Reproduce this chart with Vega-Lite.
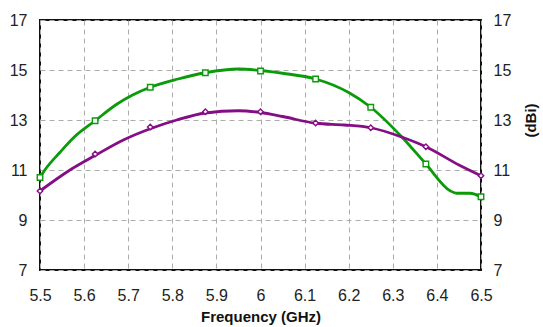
{
  "$schema": "https://vega.github.io/schema/vega-lite/v6.json",
  "width": 441,
  "height": 250,
  "autosize": "none",
  "padding": {"left": 40, "top": 20, "right": 62, "bottom": 57},
  "background": "white",
  "config": {
    "view": {"stroke": "#111", "strokeWidth": 2},
    "font": "Liberation Sans",
    "axis": {"labelFont": "Liberation Sans", "titleFont": "Liberation Sans"}
  },
  "datasets": {
    "lines": [
      {"f": 5.5, "g": 10.7, "s": "A"},
      {"f": 5.511, "g": 11.0, "s": "A"},
      {"f": 5.545, "g": 11.7, "s": "A"},
      {"f": 5.576, "g": 12.29, "s": "A"},
      {"f": 5.625, "g": 12.97, "s": "A"},
      {"f": 5.674, "g": 13.63, "s": "A"},
      {"f": 5.71, "g": 14.0, "s": "A"},
      {"f": 5.75, "g": 14.31, "s": "A"},
      {"f": 5.813, "g": 14.64, "s": "A"},
      {"f": 5.875, "g": 14.89, "s": "A"},
      {"f": 5.95, "g": 15.04, "s": "A"},
      {"f": 6.0, "g": 14.98, "s": "A"},
      {"f": 6.05, "g": 14.87, "s": "A"},
      {"f": 6.125, "g": 14.64, "s": "A"},
      {"f": 6.2, "g": 14.1, "s": "A"},
      {"f": 6.25, "g": 13.51, "s": "A"},
      {"f": 6.32, "g": 12.33, "s": "A"},
      {"f": 6.375, "g": 11.24, "s": "A"},
      {"f": 6.43, "g": 10.17, "s": "A"},
      {"f": 6.445, "g": 10.07, "s": "A"},
      {"f": 6.475, "g": 10.07, "s": "A"},
      {"f": 6.5, "g": 9.93, "s": "A"},
      {"f": 5.5, "g": 10.16, "s": "B"},
      {"f": 5.568, "g": 11.0, "s": "B"},
      {"f": 5.625, "g": 11.58, "s": "B"},
      {"f": 5.689, "g": 12.2, "s": "B"},
      {"f": 5.75, "g": 12.65, "s": "B"},
      {"f": 5.81, "g": 13.0, "s": "B"},
      {"f": 5.875, "g": 13.28, "s": "B"},
      {"f": 5.95, "g": 13.37, "s": "B"},
      {"f": 6.0, "g": 13.3, "s": "B"},
      {"f": 6.05, "g": 13.14, "s": "B"},
      {"f": 6.125, "g": 12.87, "s": "B"},
      {"f": 6.19, "g": 12.8, "s": "B"},
      {"f": 6.25, "g": 12.69, "s": "B"},
      {"f": 6.32, "g": 12.32, "s": "B"},
      {"f": 6.375, "g": 11.93, "s": "B"},
      {"f": 6.45, "g": 11.2, "s": "B"},
      {"f": 6.5, "g": 10.77, "s": "B"}
    ],
    "marks": [
      {"f": 5.5, "g": 10.7, "s": "A"},
      {"f": 5.625, "g": 12.97, "s": "A"},
      {"f": 5.75, "g": 14.31, "s": "A"},
      {"f": 5.875, "g": 14.89, "s": "A"},
      {"f": 6.0, "g": 14.96, "s": "A"},
      {"f": 6.125, "g": 14.64, "s": "A"},
      {"f": 6.25, "g": 13.51, "s": "A"},
      {"f": 6.375, "g": 11.24, "s": "A"},
      {"f": 6.5, "g": 9.93, "s": "A"},
      {"f": 5.5, "g": 10.16, "s": "B"},
      {"f": 5.625, "g": 11.64, "s": "B"},
      {"f": 5.75, "g": 12.72, "s": "B"},
      {"f": 5.875, "g": 13.33, "s": "B"},
      {"f": 6.0, "g": 13.33, "s": "B"},
      {"f": 6.125, "g": 12.88, "s": "B"},
      {"f": 6.25, "g": 12.69, "s": "B"},
      {"f": 6.375, "g": 11.93, "s": "B"},
      {"f": 6.5, "g": 10.77, "s": "B"}
    ]
  },
  "layer": [
    {
      "data": {"name": "lines"},
      "mark": {"type": "line", "strokeWidth": 2.8, "clip": false, "interpolate": "monotone"},
      "encoding": {
        "x": {
          "field": "f", "type": "quantitative",
          "scale": {"domain": [5.5, 6.5], "nice": false, "zero": false},
          "axis": {
            "values": [5.5, 5.6, 5.7, 5.8, 5.9, 6.0, 6.1, 6.2, 6.3, 6.4, 6.5],
            "format": "~g",
            "title": "Frequency (GHz)",
            "titleFontWeight": "bold", "titleFontSize": 15, "titleColor": "#111",
            "titlePadding": 6,
            "labelFontSize": 16, "labelColor": "#222", "labelPadding": 17,
            "ticks": false, "domain": false,
            "grid": true, "gridColor": "#acacac", "gridDash": [5, 4], "gridWidth": 1,
            "labelFlush": false
          }
        },
        "y": {
          "field": "g", "type": "quantitative",
          "scale": {"domain": [7, 17], "nice": false, "zero": false},
          "axis": {
            "values": [7, 9, 11, 13, 15, 17],
            "title": null,
            "labelFontSize": 16, "labelColor": "#222", "labelPadding": 13,
            "ticks": false, "domain": false,
            "grid": true, "gridColor": "#acacac", "gridDash": [5, 4], "gridWidth": 1,
            "labelFlush": false
          }
        },
        "color": {
          "field": "s", "type": "nominal",
          "scale": {"domain": ["A", "B"], "range": ["#0a9a0a", "#850d85"]},
          "legend": null
        }
      }
    },
    {
      "data": {"name": "marks"},
      "mark": {"type": "point", "filled": false, "fill": "white", "fillOpacity": 1, "strokeWidth": 1.4, "size": 30, "clip": false},
      "encoding": {
        "x": {"field": "f", "type": "quantitative", "scale": {"domain": [5.5, 6.5], "nice": false, "zero": false}},
        "y": {
          "field": "g", "type": "quantitative",
          "scale": {"domain": [7, 17], "nice": false, "zero": false},
          "axis": {
            "orient": "right",
            "values": [7, 9, 11, 13, 15, 17],
            "title": "(dBi)",
            "titleFontWeight": "bold", "titleFontSize": 15, "titleColor": "#111",
            "titleAngle": -90, "titleX": 49, "titleY": 100,
            "titleAlign": "center", "titleBaseline": "middle",
            "labelFontSize": 16, "labelColor": "#222", "labelPadding": 12,
            "ticks": false, "domain": false, "grid": false,
            "labelFlush": false
          }
        },
        "color": {
          "field": "s", "type": "nominal",
          "scale": {"domain": ["A", "B"], "range": ["#0a9a0a", "#850d85"]},
          "legend": null
        },
        "shape": {
          "field": "s", "type": "nominal",
          "scale": {"domain": ["A", "B"], "range": ["square", "diamond"]},
          "legend": null
        }
      }
    }
  ],
  "resolve": {"scale": {"y": "independent"}}
}
